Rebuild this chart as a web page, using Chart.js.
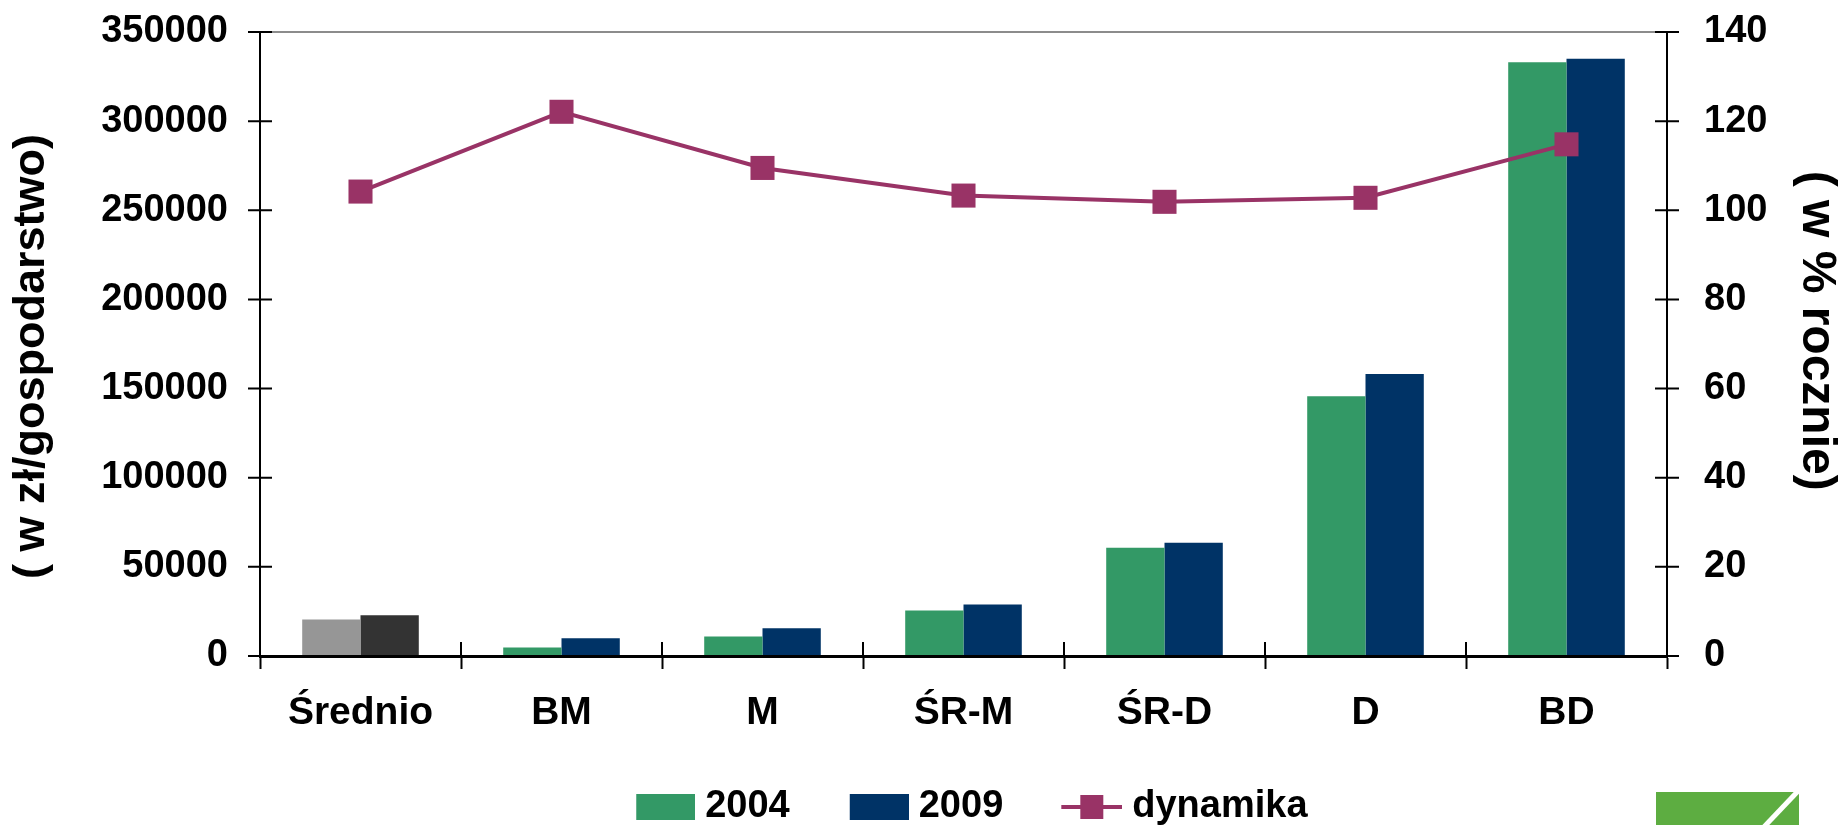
<!DOCTYPE html>
<html>
<head>
<meta charset="utf-8">
<script src="https://cdn.jsdelivr.net/npm/chart.js@4"></script>
<style>
  html, body { margin: 0; padding: 0; background: #fff; overflow: hidden; }
  #wrap { width: 1845px; height: 825px; position: relative; }
</style>
</head>
<body>
<div id="wrap"><canvas id="chart"></canvas></div>
<script>
const categories = ['Średnio', 'BM', 'M', 'ŚR-M', 'ŚR-D', 'D', 'BD'];
const values2004 = [20500, 4700, 11000, 25500, 60700, 145700, 333000];
const values2009 = [22800, 9900, 15500, 28900, 63500, 158200, 335000];
const dynamika = [104.2, 122.1, 109.5, 103.3, 101.9, 102.8, 114.8];
const leftMax = 350000, leftStep = 50000;
const rightMax = 140, rightStep = 20;

const green = '#339966', navy = '#003366', plum = '#993366';
const colors2004 = categories.map((c, i) => i === 0 ? '#969696' : green);
const colors2009 = categories.map((c, i) => i === 0 ? '#333333' : navy);

// legend icon slot: wide slot, visible swatch sits at its right end next to the text
const slotW = 109;
function boxIcon(color) {
    const c = document.createElement('canvas');
    c.width = slotW + 18; c.height = 26;
    const g = c.getContext('2d');
    g.fillStyle = color;
    g.fillRect(c.width - 59, 0, 59, 26);
    return c;
}
function lineIcon(color) {
    const c = document.createElement('canvas');
    c.width = slotW + 18; c.height = 26;
    const g = c.getContext('2d');
    g.fillStyle = color;
    g.fillRect(c.width - 61, 11, 61, 4);
    g.fillRect(c.width - 42, 1, 23, 24);
    return c;
}
const legendIcons = [boxIcon(green), boxIcon(navy), lineIcon(plum)];
const legendTexts = ['2004', '2009', 'dynamika    '];

// tick marks crossing the axis lines
const crossTicks = {
    id: 'crossTicks',
    afterDatasetsDraw(chart) {
        const {ctx, chartArea, scales} = chart;
        ctx.save();
        ctx.strokeStyle = '#000';
        ctx.lineWidth = 2;
        ctx.beginPath();
        scales.y.ticks.forEach((t, i) => {
            const py = scales.y.getPixelForTick(i);
            ctx.moveTo(chartArea.left - 12, py); ctx.lineTo(chartArea.left + 12, py);
        });
        scales.y1.ticks.forEach((t, i) => {
            const py = scales.y1.getPixelForTick(i);
            ctx.moveTo(chartArea.right - 12, py); ctx.lineTo(chartArea.right + 12, py);
        });
        for (let k = 0; k <= categories.length; k++) {
            const px = scales.x.getPixelForValue(k - 0.5);
            ctx.moveTo(px, chartArea.bottom); ctx.lineTo(px, chartArea.bottom - 14);
        }
        ctx.stroke();
        ctx.restore();
    }
};

// green corner logo
const logo = {
    id: 'logo',
    afterDraw(chart) {
        const ctx = chart.ctx;
        ctx.save();
        ctx.fillStyle = '#5dad41';
        ctx.fillRect(1656, 792, 143, 40);
        ctx.strokeStyle = '#fff';
        ctx.lineWidth = 5;
        ctx.beginPath();
        ctx.moveTo(1800, 789); ctx.lineTo(1762, 829);
        ctx.stroke();
        ctx.restore();
    }
};

Chart.defaults.font.family = "'Liberation Sans', Arial, sans-serif";
Chart.defaults.font.weight = 'bold';
Chart.defaults.color = '#000';

new Chart(document.getElementById('chart'), {
    type: 'bar',
    data: {
        labels: categories,
        datasets: [
            { label: '2004', data: values2004, backgroundColor: colors2004, yAxisID: 'y', order: 1,
              categoryPercentage: 0.58, barPercentage: 1 },
            { label: '2009', data: values2009, backgroundColor: colors2009, yAxisID: 'y', order: 1,
              categoryPercentage: 0.58, barPercentage: 1 },
            { type: 'line', label: 'dynamika', data: dynamika, yAxisID: 'y1', order: 0,
              borderColor: plum, borderWidth: 4, tension: 0,
              pointStyle: 'rect', pointRadius: 17, pointBackgroundColor: plum, pointBorderWidth: 0 }
        ]
    },
    options: {
        responsive: true,
        maintainAspectRatio: false,
        animation: false,
        layout: { padding: { top: 32, bottom: -11, left: 0, right: 0 } },
        plugins: {
            tooltip: { enabled: false },
            legend: {
                position: 'bottom',
                fullSize: false,
                labels: {
                    usePointStyle: true,
                    pointStyleWidth: slotW,
                    boxHeight: 26,
                    padding: 1,
                    font: { size: 38, weight: 'bold' },
                    color: '#000',
                    generateLabels: chart => chart.data.datasets.map((ds, i) => ({
                        text: legendTexts[i], pointStyle: legendIcons[i], fillStyle: 'transparent',
                        strokeStyle: 'transparent', lineWidth: 0, hidden: false, datasetIndex: i, fontColor: '#000'
                    }))
                }
            }
        },
        scales: {
            x: {
                grid: { drawOnChartArea: false, offset: true, tickLength: 13, tickColor: '#000', tickWidth: 2 },
                border: { color: '#000', width: 3 },
                ticks: { font: { size: 39 }, padding: 21, maxRotation: 0 },
                afterFit: s => { s.height = 131; }
            },
            y: {
                position: 'left',
                min: 0, max: leftMax,
                ticks: { stepSize: leftStep, font: { size: 38 }, padding: 0, callback: v => String(v) },
                grid: {
                    color: c => c.tick && c.tick.value === leftMax ? '#8c8c8c' : 'rgba(0,0,0,0)',
                    lineWidth: 2, tickColor: 'rgba(0,0,0,0)', tickLength: 32
                },
                border: { color: '#000', width: 2 },
                title: { display: true, text: '( w zł/gospodarstwo)  ', font: { size: 45, weight: 'bold' }, padding: { top: 5, bottom: 0 } },
                afterFit: s => { s.width = 260; }
            },
            y1: {
                position: 'right',
                min: 0, max: rightMax,
                ticks: { stepSize: rightStep, font: { size: 38 }, padding: 0 },
                grid: { drawOnChartArea: false, tickColor: 'rgba(0,0,0,0)', tickLength: 37 },
                border: { color: '#000', width: 2 },
                title: { display: true, text: '( w % rocznie)  ', font: { size: 48, weight: 'bold' }, padding: { top: 0, bottom: 0 } },
                afterFit: s => { s.width = 178; }
            }
        }
    },
    plugins: [crossTicks, logo]
});
</script>
</body>
</html>
